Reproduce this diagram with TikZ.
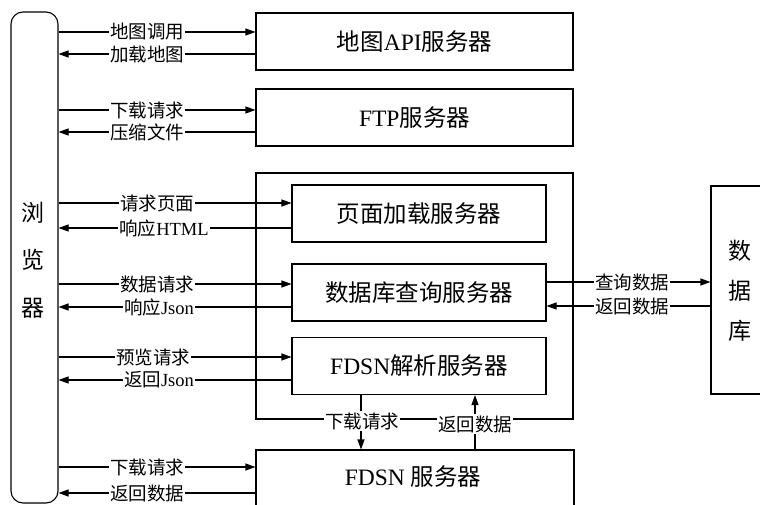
\documentclass[tikz,border=0pt]{standalone}
\usepackage{fontspec}
\setmainfont{Liberation Serif}
\newfontfamily\cjk{Noto Sans CJK SC}
\newcommand\zh[1]{{\cjk #1}}
\usetikzlibrary{arrows.meta}
\begin{document}
\begin{tikzpicture}[x=1pt,y=-1pt, line width=1.1pt,
  box/.style={draw, line width=1.1pt, minimum width=317pt, minimum height=57pt, inner sep=0pt, font=\fontsize{23.5}{26}\selectfont},
  inbox/.style={box, minimum width=254pt},
  arr/.style={-{Triangle[length=10pt,width=7pt]}},
  lab/.style={fill=white, inner sep=1pt, font=\fontsize{18.5}{20}\selectfont},
  vtext/.style={align=center, font=\fontsize{23}{46}\selectfont}
]
\useasboundingbox (0,0) rectangle (760,505);
\clip (0,0) rectangle (760,505);

% browser
\node[draw, line width=1.1pt, rounded corners=12pt, minimum width=47pt, minimum height=491pt] (browser) at (34.5,257.5) {};
\node[vtext, font=\fontsize{23}{47.5}\selectfont] (btext) at (33,260) {\zh{浏}\\\zh{览}\\\zh{器}};

% servers
\node[box] (mapapi) at (414.5,41.5) {\zh{地图}API\zh{服务器}};
\node[box] (ftp) at (414.5,117.5) {FTP\zh{服务器}};
\node[draw, line width=1.1pt, minimum width=317pt, minimum height=246pt] (outer) at (414.5,296) {};
\node[inbox] (page) at (419,213.5) {\zh{页面加载服务器}};
\node[inbox] (dbq) at (419,292.5) {\zh{数据库查询服务器}};
\node[inbox] (fdsnp) at (419,366) {FDSN\zh{解析服务器}};
\node[box, minimum height=70pt, minimum width=318pt] (fdsns) at (415,485) {};
\node[font=\fontsize{23.5}{26}\selectfont] (fdsnstext) at (413,477) {FDSN \zh{服务器}};

% database
\node[draw, line width=1.1pt, minimum width=58pt, minimum height=208pt] (db) at (740,290) {};
\node[vtext, font=\fontsize{23}{40}\selectfont] (dbtext) at (740,291) {\zh{数}\\\zh{据}\\\zh{库}};

% browser <-> map api
\draw[arr] (browser.east |- 0,32) -- (mapapi.west |- 0,32);
\draw[arr] (mapapi.west |- 0,54) -- (browser.east |- 0,54);
\node[lab] (l1) at (147,32) {\zh{地图调用}};
\node[lab] (l2) at (147,54) {\zh{加载地图}};

% browser <-> ftp
\draw[arr] (browser.east |- 0,110) -- (ftp.west |- 0,110);
\draw[arr] (ftp.west |- 0,132) -- (browser.east |- 0,132);
\node[lab] (l3) at (147,110) {\zh{下载请求}};
\node[lab] (l4) at (147,132) {\zh{压缩文件}};

% browser <-> page
\draw[arr] (browser.east |- 0,203) -- (page.west |- 0,203);
\draw[arr] (page.west |- 0,228) -- (browser.east |- 0,228);
\node[lab] (l5) at (157,203) {\zh{请求页面}};
\node[lab] (l6) at (164,228) {\zh{响应}HTML};

% browser <-> db query
\draw[arr] (browser.east |- 0,284) -- (dbq.west |- 0,284);
\draw[arr] (dbq.west |- 0,307) -- (browser.east |- 0,307);
\node[lab] (l7) at (157,284) {\zh{数据请求}};
\node[lab] (l8) at (159,307) {\zh{响应}Json\hspace{5pt}};

% browser <-> fdsn parse
\draw[arr] (browser.east |- 0,357) -- (fdsnp.west |- 0,357);
\draw[arr] (fdsnp.west |- 0,380) -- (browser.east |- 0,380);
\node[lab] (l9) at (153,357) {\zh{预览请求}};
\node[lab] (l10) at (159,380) {\zh{返回}Json\hspace{5pt}};

% browser <-> fdsn server
\draw[arr] (browser.east |- 0,467) -- (fdsns.west |- 0,467);
\draw[arr] (fdsns.west |- 0,493) -- (browser.east |- 0,493);
\node[lab] (l11) at (147,467) {\zh{下载请求}};
\node[lab] (l12) at (147,493) {\zh{返回数据}};

% db query <-> database
\draw[arr] (dbq.east |- 0,282) -- (db.west |- 0,282);
\draw[arr] (db.west |- 0,306) -- (dbq.east |- 0,306);
\node[lab] (l13) at (632,282) {\zh{查询数据}};
\node[lab] (l14) at (632,306) {\zh{返回数据}};

% fdsn parse <-> fdsn server
\draw[arr] (fdsnp.south -| 361,0) -- (fdsns.north -| 361,0);
\draw[arr] (fdsns.north -| 475,0) -- (fdsnp.south -| 475,0);
\node[lab] (l15) at (362,421) {\zh{下载请求}};
\node[lab] (l16) at (475,424) {\zh{返回数据}};
\end{tikzpicture}
\end{document}
